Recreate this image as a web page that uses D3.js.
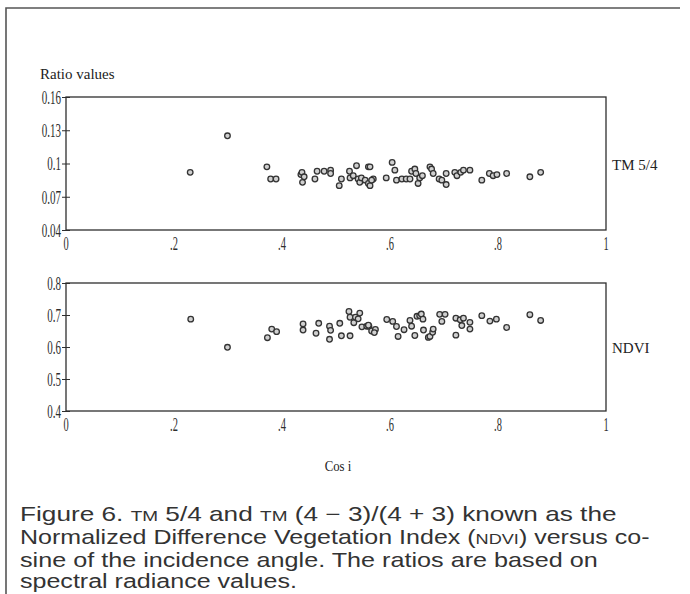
<!DOCTYPE html>
<html><head><meta charset="utf-8">
<script src="https://cdn.jsdelivr.net/npm/d3@7"></script>
<style>body{margin:0;background:#fff}svg{display:block}</style>
</head><body>
<svg id="c" width="690" height="594"></svg>
<script>
// ---- data ----
const xTicks = [0, 0.2, 0.4, 0.6, 0.8, 1];
const xTickLabels = ["0", ".2", ".4", ".6", ".8", "1"];
const topTicks = [0.04, 0.07, 0.1, 0.13, 0.16];
const topTickLabels = ["0.04", "0.07", "0.1", "0.13", "0.16"];
const botTicks = [0.4, 0.5, 0.6, 0.7, 0.8];
const botTickLabels = ["0.4", "0.5", "0.6", "0.7", "0.8"];

// TM 5/4 panel: cos i and ratio
const tmCos = [0.230,0.299,0.372,0.379,0.389,0.435,0.438,0.461,0.465,0.437,0.441,0.478,0.490,0.490,0.506,0.510,0.525,0.526,0.532,0.538,0.541,0.544,0.547,0.554,0.560,0.563,0.560,0.563,0.569,0.566,0.593,0.604,0.609,0.612,0.622,0.630,0.637,0.640,0.646,0.648,0.652,0.655,0.660,0.674,0.677,0.680,0.691,0.696,0.704,0.704,0.720,0.724,0.731,0.736,0.748,0.770,0.784,0.791,0.798,0.816,0.859,0.879];
const tmRatio = [0.092,0.125,0.097,0.086,0.086,0.090,0.083,0.086,0.093,0.092,0.088,0.093,0.094,0.091,0.080,0.086,0.093,0.087,0.089,0.098,0.086,0.083,0.087,0.085,0.097,0.097,0.082,0.080,0.086,0.085,0.087,0.101,0.094,0.085,0.086,0.086,0.086,0.093,0.095,0.091,0.082,0.087,0.089,0.097,0.095,0.091,0.086,0.085,0.081,0.091,0.092,0.089,0.092,0.094,0.094,0.085,0.091,0.089,0.090,0.091,0.088,0.092];

// NDVI panel: cos i and NDVI
const ndCos = [0.231,0.299,0.373,0.381,0.390,0.439,0.439,0.463,0.468,0.488,0.488,0.490,0.507,0.510,0.524,0.526,0.526,0.533,0.536,0.544,0.541,0.548,0.557,0.561,0.560,0.566,0.573,0.571,0.594,0.605,0.612,0.615,0.626,0.637,0.640,0.646,0.650,0.655,0.658,0.661,0.662,0.671,0.674,0.679,0.680,0.692,0.696,0.702,0.722,0.722,0.730,0.736,0.733,0.748,0.748,0.770,0.785,0.797,0.816,0.859,0.879];
const ndvi = [0.687,0.599,0.629,0.656,0.648,0.653,0.672,0.643,0.674,0.665,0.624,0.652,0.674,0.635,0.711,0.693,0.635,0.676,0.693,0.706,0.688,0.663,0.665,0.665,0.668,0.650,0.655,0.645,0.686,0.680,0.664,0.633,0.654,0.683,0.665,0.636,0.696,0.698,0.703,0.687,0.653,0.630,0.633,0.646,0.656,0.702,0.680,0.702,0.690,0.637,0.685,0.690,0.667,0.677,0.656,0.698,0.681,0.687,0.661,0.701,0.683];

// ---- drawing ----
const svg = d3.select("#c");
const ink = "#2e2e2e";
const serif = "'Liberation Serif','Times New Roman',serif";

// outer frame (top and left rules)
svg.append("path").attr("d", "M6,594 V8 H680").attr("fill","none").attr("stroke","#555").attr("stroke-width",1.6);

const x = d3.scaleLinear().domain([0,1]).range([66,606]);

function condensed(sel, sx){
  sel.each(function(){
    const t = d3.select(this);
    const ax = +t.attr("x"), ay = +t.attr("y");
    t.attr("transform", `translate(${ax},${ay}) scale(${sx},1) translate(${-ax},${-ay})`);
  });
}

function panel(top, bottom, ydom, yt, ytl, xs, ys, name){
  const y = d3.scaleLinear().domain(ydom).range([bottom, top]);
  const g = svg.append("g");
  // box
  g.append("rect").attr("x", x(0)).attr("y", top).attr("width", x(1)-x(0)).attr("height", bottom-top)
    .attr("fill","none").attr("stroke",ink).attr("stroke-width",1.3);
  // y axis ticks
  const ax = d3.axisLeft(y).tickValues(yt).tickFormat((d,i)=>ytl[i]).tickSize(4).tickPadding(2);
  const ag = g.append("g").attr("transform",`translate(${x(0)},0)`).call(ax);
  ag.select(".domain").remove();
  ag.selectAll(".tick line").attr("x2",-4).attr("x1",4).attr("stroke",ink).attr("stroke-width",1);
  ag.selectAll(".tick text").attr("font-family",serif).attr("font-size",19).attr("fill",ink)
    .attr("transform","scale(0.58,1)").attr("x",-5/0.58).attr("dy","0.34em");
  // x tick labels
  g.selectAll(".xl").data(xTicks).join("text")
    .attr("x", d=>x(d)).attr("y", bottom+20)
    .attr("text-anchor","middle").attr("font-family",serif).attr("font-size",18).attr("fill",ink)
    .text((d,i)=>xTickLabels[i]).call(condensed, 0.58);
  // points
  g.selectAll("circle").data(xs.map((v,i)=>[v,ys[i]])).join("circle")
    .attr("cx", d=>x(d[0])).attr("cy", d=>y(d[1])).attr("r",2.8)
    .attr("fill","#d0d0d0").attr("stroke","#333").attr("stroke-width",1.3);
  // series label
  g.append("text").attr("x",612).attr("y", y(ydom[0]+(ydom[1]-ydom[0])*0.5)+6)
    .attr("font-family",serif).attr("font-size",15).attr("fill","#222").text(name);
}

panel(97, 230, [0.04,0.16], topTicks, topTickLabels, tmCos, tmRatio, "TM 5/4");
panel(283, 411, [0.4,0.8], botTicks, botTickLabels, ndCos, ndvi, "NDVI");

svg.append("text").attr("x",40).attr("y",79).attr("font-family",serif).attr("font-size",15).attr("fill","#222").text("Ratio values");
svg.append("text").attr("x",338).attr("y",471).attr("text-anchor","middle").attr("font-family",serif).attr("font-size",15).attr("fill","#222").text("Cos i").call(condensed,0.85);

// caption
const sans = "'Liberation Sans',Arial,sans-serif";
const capLines = [
  [["Figure 6. ",0],["TM",1],[" 5/4 and ",0],["TM",1],[" (4 \u2212 3)/(4 + 3) known as the",0]],
  [["Normalized Difference Vegetation Index (",0],["NDVI",1],[") versus co-",0]],
  [["sine of the incidence angle. The ratios are based on",0]],
  [["spectral radiance values.",0]]
];
const capWidths = [597, 630, 578, 277];
const capBase = [521, 544, 567, 588];
capLines.forEach((ln,i)=>{
  const t = svg.append("text").attr("x",20).attr("y",capBase[i])
    .attr("font-family",sans).attr("font-size",20).attr("font-weight",400).attr("fill","#333");
  ln.forEach(([s,sc])=>t.append("tspan").attr("font-size", sc?14.5:20).text(s));
  const w = t.node().getComputedTextLength();
  const sx = capWidths[i]/w;
  t.attr("transform",`translate(20,0) scale(${sx},1) translate(-20,0)`);
});
</script>
</body></html>
